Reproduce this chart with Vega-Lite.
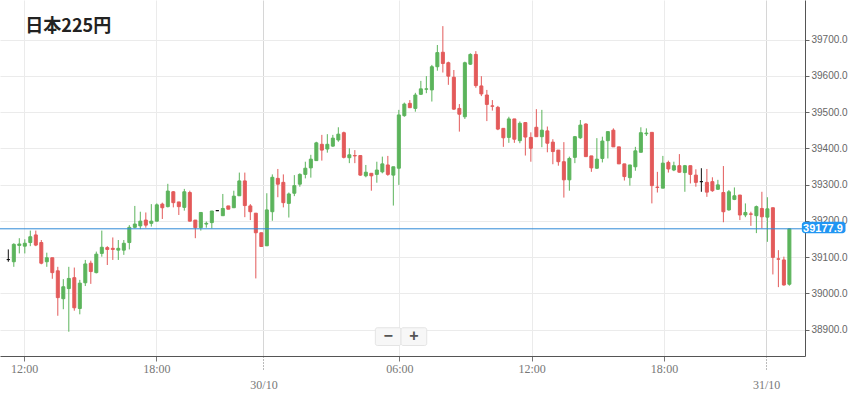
{
  "$schema": "https://vega.github.io/schema/vega-lite/v6.json",
  "width": 805,
  "height": 356,
  "autosize": {"type": "none"},
  "padding": {"left": 0, "top": 0, "right": 44, "bottom": 41},
  "background": "white",
  "config": {"view": {"stroke": null}},
  "data": {"values": [
    {"i":0,"o":39093,"h":39121,"l":39087,"c":39093},
    {"i":1,"o":39087,"h":39138,"l":39073,"c":39135},
    {"i":2,"o":39132,"h":39152,"l":39110,"c":39136},
    {"i":3,"o":39130,"h":39149,"l":39110,"c":39138},
    {"i":4,"o":39140,"h":39173,"l":39130,"c":39156},
    {"i":5,"o":39161,"h":39173,"l":39130,"c":39133},
    {"i":6,"o":39140,"h":39147,"l":39080,"c":39083},
    {"i":7,"o":39087,"h":39112,"l":39073,"c":39098},
    {"i":8,"o":39098,"h":39098,"l":39040,"c":39057},
    {"i":9,"o":39062,"h":39073,"l":38938,"c":38988},
    {"i":10,"o":38985,"h":39039,"l":38956,"c":39018},
    {"i":11,"o":39013,"h":39073,"l":38894,"c":39041},
    {"i":12,"o":39043,"h":39071,"l":38952,"c":38960},
    {"i":13,"o":38958,"h":39037,"l":38942,"c":39028},
    {"i":14,"o":39029,"h":39092,"l":39020,"c":39081},
    {"i":15,"o":39083,"h":39090,"l":39026,"c":39060},
    {"i":16,"o":39057,"h":39115,"l":39055,"c":39108},
    {"i":17,"o":39110,"h":39173,"l":39101,"c":39127},
    {"i":18,"o":39126,"h":39130,"l":39078,"c":39121},
    {"i":19,"o":39124,"h":39154,"l":39092,"c":39121},
    {"i":20,"o":39119,"h":39147,"l":39092,"c":39124},
    {"i":21,"o":39119,"h":39147,"l":39106,"c":39138},
    {"i":22,"o":39140,"h":39188,"l":39121,"c":39182},
    {"i":23,"o":39182,"h":39241,"l":39179,"c":39191},
    {"i":24,"o":39186,"h":39225,"l":39177,"c":39199},
    {"i":25,"o":39202,"h":39223,"l":39181,"c":39188},
    {"i":26,"o":39193,"h":39246,"l":39184,"c":39199},
    {"i":27,"o":39199,"h":39248,"l":39198,"c":39244},
    {"i":28,"o":39246,"h":39250,"l":39205,"c":39236},
    {"i":29,"o":39239,"h":39302,"l":39237,"c":39282},
    {"i":30,"o":39280,"h":39282,"l":39237,"c":39250},
    {"i":31,"o":39252,"h":39252,"l":39216,"c":39239},
    {"i":32,"o":39237,"h":39288,"l":39228,"c":39280},
    {"i":33,"o":39278,"h":39283,"l":39198,"c":39199},
    {"i":34,"o":39202,"h":39202,"l":39152,"c":39181},
    {"i":35,"o":39181,"h":39223,"l":39173,"c":39223},
    {"i":36,"o":39191,"h":39198,"l":39181,"c":39193},
    {"i":37,"o":39195,"h":39227,"l":39179,"c":39227},
    {"i":38,"o":39228,"h":39228,"l":39228,"c":39228},
    {"i":39,"o":39214,"h":39274,"l":39214,"c":39234},
    {"i":40,"o":39241,"h":39241,"l":39232,"c":39232},
    {"i":41,"o":39236,"h":39283,"l":39236,"c":39268},
    {"i":42,"o":39269,"h":39333,"l":39269,"c":39310},
    {"i":43,"o":39310,"h":39333,"l":39210,"c":39242},
    {"i":44,"o":39241,"h":39246,"l":39202,"c":39225},
    {"i":45,"o":39221,"h":39221,"l":39041,"c":39167},
    {"i":46,"o":39167,"h":39167,"l":39129,"c":39129},
    {"i":47,"o":39131,"h":39276,"l":39131,"c":39230},
    {"i":48,"o":39225,"h":39328,"l":39200,"c":39320},
    {"i":49,"o":39317,"h":39343,"l":39265,"c":39301},
    {"i":50,"o":39306,"h":39328,"l":39237,"c":39250},
    {"i":51,"o":39248,"h":39278,"l":39209,"c":39274},
    {"i":52,"o":39276,"h":39326,"l":39268,"c":39297},
    {"i":53,"o":39301,"h":39331,"l":39294,"c":39328},
    {"i":54,"o":39328,"h":39363,"l":39317,"c":39345},
    {"i":55,"o":39346,"h":39382,"l":39319,"c":39370},
    {"i":56,"o":39366,"h":39418,"l":39366,"c":39415},
    {"i":57,"o":39411,"h":39437,"l":39366,"c":39395},
    {"i":58,"o":39398,"h":39439,"l":39388,"c":39411},
    {"i":59,"o":39406,"h":39437,"l":39404,"c":39428},
    {"i":60,"o":39423,"h":39458,"l":39418,"c":39439},
    {"i":61,"o":39443,"h":39446,"l":39372,"c":39375},
    {"i":62,"o":39374,"h":39400,"l":39359,"c":39382},
    {"i":63,"o":39380,"h":39395,"l":39359,"c":39379},
    {"i":64,"o":39380,"h":39380,"l":39324,"c":39326},
    {"i":65,"o":39324,"h":39354,"l":39320,"c":39334},
    {"i":66,"o":39331,"h":39331,"l":39283,"c":39324},
    {"i":67,"o":39328,"h":39363,"l":39305,"c":39340},
    {"i":68,"o":39335,"h":39377,"l":39331,"c":39357},
    {"i":69,"o":39354,"h":39379,"l":39324,"c":39328},
    {"i":70,"o":39326,"h":39349,"l":39242,"c":39349},
    {"i":71,"o":39345,"h":39506,"l":39299,"c":39492},
    {"i":72,"o":39490,"h":39526,"l":39487,"c":39522},
    {"i":73,"o":39524,"h":39533,"l":39512,"c":39512},
    {"i":74,"o":39510,"h":39553,"l":39501,"c":39547},
    {"i":75,"o":39549,"h":39586,"l":39547,"c":39564},
    {"i":76,"o":39563,"h":39599,"l":39552,"c":39564},
    {"i":77,"o":39561,"h":39630,"l":39529,"c":39625},
    {"i":78,"o":39625,"h":39685,"l":39614,"c":39664},
    {"i":79,"o":39665,"h":39737,"l":39609,"c":39634},
    {"i":80,"o":39636,"h":39639,"l":39575,"c":39599},
    {"i":81,"o":39596,"h":39616,"l":39506,"c":39508},
    {"i":82,"o":39510,"h":39522,"l":39446,"c":39494},
    {"i":83,"o":39487,"h":39639,"l":39481,"c":39636},
    {"i":84,"o":39632,"h":39662,"l":39630,"c":39659},
    {"i":85,"o":39659,"h":39668,"l":39567,"c":39573},
    {"i":86,"o":39572,"h":39599,"l":39544,"c":39550},
    {"i":87,"o":39547,"h":39561,"l":39475,"c":39521},
    {"i":88,"o":39517,"h":39533,"l":39504,"c":39516},
    {"i":89,"o":39513,"h":39517,"l":39450,"c":39453},
    {"i":90,"o":39455,"h":39455,"l":39404,"c":39429},
    {"i":91,"o":39430,"h":39487,"l":39415,"c":39481},
    {"i":92,"o":39481,"h":39481,"l":39415,"c":39425},
    {"i":93,"o":39421,"h":39474,"l":39414,"c":39469},
    {"i":94,"o":39471,"h":39471,"l":39380,"c":39431},
    {"i":95,"o":39430,"h":39444,"l":39363,"c":39400},
    {"i":96,"o":39458,"h":39508,"l":39432,"c":39432},
    {"i":97,"o":39432,"h":39506,"l":39403,"c":39450},
    {"i":98,"o":39448,"h":39460,"l":39389,"c":39414},
    {"i":99,"o":39417,"h":39425,"l":39356,"c":39391},
    {"i":100,"o":39395,"h":39395,"l":39352,"c":39363},
    {"i":101,"o":39363,"h":39417,"l":39264,"c":39313},
    {"i":102,"o":39313,"h":39377,"l":39283,"c":39372},
    {"i":103,"o":39375,"h":39434,"l":39359,"c":39432},
    {"i":104,"o":39429,"h":39478,"l":39426,"c":39464},
    {"i":105,"o":39467,"h":39469,"l":39377,"c":39377},
    {"i":106,"o":39379,"h":39379,"l":39335,"c":39346},
    {"i":107,"o":39345,"h":39428,"l":39343,"c":39370},
    {"i":108,"o":39372,"h":39432,"l":39361,"c":39420},
    {"i":109,"o":39421,"h":39446,"l":39372,"c":39446},
    {"i":110,"o":39450,"h":39455,"l":39404,"c":39404},
    {"i":111,"o":39404,"h":39404,"l":39357,"c":39357},
    {"i":112,"o":39357,"h":39357,"l":39311,"c":39322},
    {"i":113,"o":39319,"h":39354,"l":39297,"c":39354},
    {"i":114,"o":39349,"h":39404,"l":39338,"c":39393},
    {"i":115,"o":39389,"h":39458,"l":39389,"c":39443},
    {"i":116,"o":39440,"h":39455,"l":39434,"c":39442},
    {"i":117,"o":39444,"h":39444,"l":39248,"c":39297},
    {"i":118,"o":39293,"h":39335,"l":39278,"c":39292},
    {"i":119,"o":39290,"h":39379,"l":39290,"c":39359},
    {"i":120,"o":39361,"h":39366,"l":39333,"c":39343},
    {"i":121,"o":39340,"h":39363,"l":39337,"c":39352},
    {"i":122,"o":39352,"h":39384,"l":39333,"c":39334},
    {"i":123,"o":39333,"h":39354,"l":39280,"c":39352},
    {"i":124,"o":39352,"h":39352,"l":39303,"c":39328},
    {"i":125,"o":39326,"h":39342,"l":39294,"c":39306},
    {"i":126,"o":39308,"h":39345,"l":39280,"c":39308},
    {"i":127,"o":39306,"h":39343,"l":39266,"c":39279},
    {"i":128,"o":39308,"h":39320,"l":39280,"c":39283},
    {"i":129,"o":39287,"h":39313,"l":39285,"c":39299},
    {"i":130,"o":39278,"h":39351,"l":39196,"c":39225},
    {"i":131,"o":39230,"h":39285,"l":39228,"c":39280},
    {"i":132,"o":39259,"h":39292,"l":39257,"c":39269},
    {"i":133,"o":39271,"h":39271,"l":39202,"c":39216},
    {"i":134,"o":39216,"h":39248,"l":39210,"c":39223},
    {"i":135,"o":39219,"h":39225,"l":39186,"c":39218},
    {"i":136,"o":39214,"h":39242,"l":39166,"c":39239},
    {"i":137,"o":39234,"h":39280,"l":39179,"c":39211},
    {"i":138,"o":39210,"h":39265,"l":39142,"c":39233},
    {"i":139,"o":39236,"h":39236,"l":39052,"c":39099},
    {"i":140,"o":39095,"h":39119,"l":39017,"c":39094},
    {"i":141,"o":39092,"h":39101,"l":39021,"c":39023},
    {"i":142,"o":39025,"h":39179,"l":39021,"c":39177.9}
  ]},
  "layer": [
    {
      "mark": {"type": "rule", "strokeWidth": 1},
      "encoding": {
        "x": {
          "field": "i", "type": "quantitative",
          "scale": {"domain": [-0.6, 143.93], "nice": false, "zero": false},
          "axis": {
            "title": null,
            "values": [2.87, 26.93, 46.39, 71.1, 95.15, 119.21, 137.77],
            "labelExpr": "datum.value < 10 ? '12:00' : datum.value < 35 ? '18:00' : datum.value < 60 ? '30/10' : datum.value < 80 ? '06:00' : datum.value < 100 ? '12:00' : datum.value < 130 ? '18:00' : '31/10'",
            "labelFont": "Liberation Sans Narrow",
            "labelFontSize": 12,
            "labelColor": "#777777",
            "labelPadding": {"condition": {"test": "(datum.value > 40 && datum.value < 50) || datum.value > 130", "value": 10}, "value": 2},
            "tickSize": {"condition": {"test": "(datum.value > 40 && datum.value < 50) || datum.value > 130", "value": 13}, "value": 5},
            "tickDash": {"condition": {"test": "(datum.value > 40 && datum.value < 50) || datum.value > 130", "value": [1, 2]}, "value": []},
            "tickColor": "#777777",
            "domainColor": "#555555",
            "grid": true,
            "gridColor": {"condition": {"test": "(datum.value > 40 && datum.value < 50) || datum.value > 130", "value": "#d6d6d6"}, "value": "#ebebeb"},
            "labelFlush": false
          }
        },
        "y": {
          "field": "l", "type": "quantitative",
          "scale": {"domain": [38827, 39809.1], "nice": false, "zero": false},
          "axis": {
            "title": null,
            "orient": "right",
            "values": [38900, 39000, 39100, 39200, 39300, 39400, 39500, 39600, 39700],
            "format": ".1f",
            "labelFont": "Liberation Sans",
            "labelFontSize": 10,
            "labelColor": "#666666",
            "labelPadding": 2,
            "tickSize": 4,
            "tickColor": "#666666",
            "domainColor": "#555555",
            "gridColor": "#ebebeb"
          }
        },
        "y2": {"field": "h"},
        "color": {
          "condition": [
            {"test": "datum.c > datum.o", "value": "#5cb45c"},
            {"test": "datum.c < datum.o", "value": "#e35a5a"}
          ],
          "value": "#111111"
        }
      }
    },
    {
      "mark": {"type": "bar", "width": 3, "strokeWidth": 1},
      "encoding": {
        "x": {"field": "i", "type": "quantitative"},
        "y": {"field": "o", "type": "quantitative"},
        "y2": {"field": "c"},
        "color": {
          "condition": [
            {"test": "datum.c > datum.o", "value": "#5cb45c"},
            {"test": "datum.c < datum.o", "value": "#e35a5a"}
          ],
          "value": "#111111"
        },
        "stroke": {
          "condition": [
            {"test": "datum.c > datum.o", "value": "#5cb45c"},
            {"test": "datum.c < datum.o", "value": "#e35a5a"}
          ],
          "value": "#111111"
        }
      }
    },
    {
      "data": {"values": [{"p": 39177.9}]},
      "mark": {"type": "rule", "color": "#2f8bd8", "strokeWidth": 1},
      "encoding": {"y": {"field": "p", "type": "quantitative"}}
    },
    {
      "data": {"values": [{"p": 39177.9}]},
      "mark": {"type": "rect", "color": "#2196f3", "cornerRadius": 3, "clip": false},
      "encoding": {
        "x": {"datum": 144.27},
        "x2": {"datum": 152.2},
        "y": {"datum": 39165.5},
        "y2": {"datum": 39197.5}
      }
    },
    {
      "data": {"values": [{"p": 39177.9, "t": "39177.9"}]},
      "mark": {"type": "text", "color": "white", "font": "Liberation Sans", "fontSize": 11, "fontWeight": "bold", "align": "center", "baseline": "middle", "clip": false},
      "encoding": {
        "x": {"datum": 148.1},
        "y": {"field": "p", "type": "quantitative"},
        "text": {"field": "t"}
      }
    },
    {
      "data": {"values": [{"t": "日本225円"}]},
      "mark": {"type": "text", "color": "#222222", "font": "Noto Sans CJK JP", "fontSize": 18, "fontWeight": "bold", "align": "left", "baseline": "middle"},
      "encoding": {
        "x": {"datum": 3.1},
        "y": {"datum": 39735},
        "text": {"field": "t"}
      }
    },
    {
      "data": {"values": [{"a": 66.73, "b": 71.4}, {"a": 71.4, "b": 76.07}]},
      "mark": {"type": "rect", "fill": "#f7f7f7", "stroke": "#e4e4e4", "strokeWidth": 1, "cornerRadius": 2},
      "encoding": {
        "x": {"field": "a", "type": "quantitative"},
        "x2": {"field": "b"},
        "y": {"datum": 38905},
        "y2": {"datum": 38856}
      }
    },
    {
      "data": {"values": [{"k": 69.07, "t": "−"}, {"k": 73.73, "t": "+"}]},
      "mark": {"type": "text", "color": "#555555", "font": "Liberation Sans", "fontSize": 16, "fontWeight": "bold", "align": "center", "baseline": "middle"},
      "encoding": {
        "x": {"field": "k", "type": "quantitative"},
        "y": {"datum": 38881},
        "text": {"field": "t"}
      }
    }
  ]
}
